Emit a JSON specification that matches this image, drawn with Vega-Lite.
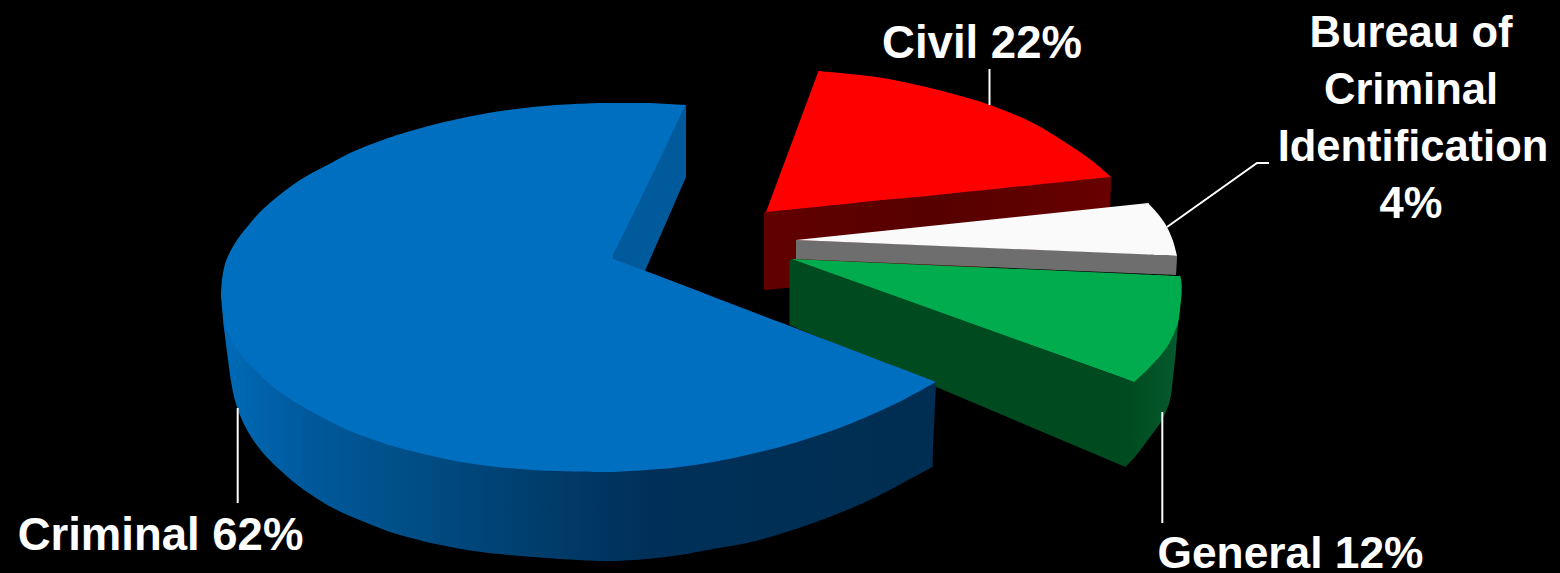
{
"$schema":"https://vega.github.io/schema/vega-lite/v6.json",
"width":1560,"height":573,"padding":0,
"autosize":"none",
"background":"#000000",
"config":{"view":{"stroke":null}},
"datasets":{
"shapes":[
{"p":"redWall","x":764,"y":212,"y2":290},{"p":"redWall","x":766,"y":212,"y2":290},{"p":"redWall","x":1109,"y":177,"y2":255},{"p":"redWall","x":1111,"y":177,"y2":180},
{"p":"redTri","x":766,"y":212,"y2":212},{"p":"redTri","x":818.5,"y":71,"y2":206.7},
{"p":"redTop","x":818,"y":71,"y2":206.8},{"p":"redTop","x":850,"y":74,"y2":203.5},{"p":"redTop","x":883,"y":78,"y2":200},{"p":"redTop","x":917,"y":85,"y2":197},{"p":"redTop","x":950,"y":93,"y2":193.5},{"p":"redTop","x":990,"y":105,"y2":189.5},{"p":"redTop","x":1033,"y":123,"y2":185},{"p":"redTop","x":1077,"y":150,"y2":180.5},{"p":"redTop","x":1095,"y":163,"y2":178.6},{"p":"redTop","x":1111,"y":177,"y2":177},
{"p":"grayWall","x":796,"y":240,"y2":259},{"p":"grayWall","x":1176,"y":255,"y2":275},{"p":"grayWall","x":1177,"y":255.7,"y2":258},
{"p":"whiteTri","x":796,"y":240,"y2":240},{"p":"whiteTri","x":1148.5,"y":203,"y2":254.5},
{"p":"whiteTop","x":1148,"y":203,"y2":254.5},{"p":"whiteTop","x":1158,"y":214,"y2":255},{"p":"whiteTop","x":1167,"y":227,"y2":255},{"p":"whiteTop","x":1173,"y":241,"y2":255.4},{"p":"whiteTop","x":1177,"y":255.7,"y2":255.7},
{"p":"greenWallA","x":789.5,"y":260,"y2":325},{"p":"greenWallA","x":792,"y":259,"y2":326},{"p":"greenWallA","x":1125.5,"y":379,"y2":467},
{"p":"greenWallB","x":1125,"y":375,"y2":467},{"p":"greenWallB","x":1134,"y":370,"y2":458},{"p":"greenWallB","x":1150,"y":360,"y2":437},{"p":"greenWallB","x":1162,"y":350,"y2":420},{"p":"greenWallB","x":1170,"y":340,"y2":400},{"p":"greenWallB","x":1173,"y":335,"y2":377},{"p":"greenWallB","x":1176,"y":328,"y2":350},{"p":"greenWallB","x":1178,"y":322,"y2":325},
{"p":"greenTri","x":791.7,"y":259,"y2":259},{"p":"greenTri","x":1134.5,"y":274,"y2":382},
{"p":"greenTop","x":1134,"y":274,"y2":382},{"p":"greenTop","x":1150,"y":274.7,"y2":367},{"p":"greenTop","x":1167,"y":275.4,"y2":347},{"p":"greenTop","x":1178,"y":275.9,"y2":323},{"p":"greenTop","x":1180,"y":276,"y2":310},{"p":"greenTop","x":1181.7,"y":285,"y2":293},
{"p":"blueNotch","x":612,"y":258,"y2":258},{"p":"blueNotch","x":645,"y":188,"y2":271},{"p":"blueNotch","x":686,"y":105,"y2":177},
{"p":"blueWall","x":222,"y":300,"y2":300},{"p":"blueWall","x":223,"y":318,"y2":320},{"p":"blueWall","x":225,"y":325,"y2":336},{"p":"blueWall","x":228,"y":333,"y2":360},{"p":"blueWall","x":232,"y":340,"y2":387},{"p":"blueWall","x":237,"y":348,"y2":407},{"p":"blueWall","x":247,"y":360,"y2":430},{"p":"blueWall","x":263,"y":376,"y2":453},{"p":"blueWall","x":280,"y":390,"y2":470},{"p":"blueWall","x":300,"y":403,"y2":487},{"p":"blueWall","x":333,"y":421,"y2":508},{"p":"blueWall","x":367,"y":437,"y2":523},{"p":"blueWall","x":400,"y":446,"y2":535},{"p":"blueWall","x":467,"y":461,"y2":550},{"p":"blueWall","x":533,"y":468,"y2":557},{"p":"blueWall","x":600,"y":470,"y2":561},{"p":"blueWall","x":613,"y":470,"y2":561},{"p":"blueWall","x":647,"y":468,"y2":559},{"p":"blueWall","x":680,"y":465,"y2":555},{"p":"blueWall","x":713,"y":460,"y2":549},{"p":"blueWall","x":747,"y":452,"y2":543},{"p":"blueWall","x":780,"y":445,"y2":534},{"p":"blueWall","x":813,"y":435,"y2":523},{"p":"blueWall","x":847,"y":423,"y2":510},{"p":"blueWall","x":880,"y":408,"y2":495},{"p":"blueWall","x":897,"y":401,"y2":486},{"p":"blueWall","x":932.5,"y":384,"y2":467},
{"p":"blueWallEnd","x":932,"y":384,"y2":467},{"p":"blueWallEnd","x":936,"y":382,"y2":384},
{"p":"blueTopA","x":221,"y":293,"y2":296},{"p":"blueTopA","x":222,"y":280,"y2":307},{"p":"blueTopA","x":223,"y":273,"y2":318},{"p":"blueTopA","x":225,"y":264,"y2":327},{"p":"blueTopA","x":230,"y":252,"y2":337},{"p":"blueTopA","x":237,"y":240,"y2":350},{"p":"blueTopA","x":247,"y":227,"y2":362},{"p":"blueTopA","x":260,"y":212,"y2":375},{"p":"blueTopA","x":277,"y":197,"y2":390},{"p":"blueTopA","x":300,"y":180,"y2":405},{"p":"blueTopA","x":333,"y":162,"y2":423},{"p":"blueTopA","x":350,"y":153,"y2":431},{"p":"blueTopA","x":380,"y":141,"y2":442},{"p":"blueTopA","x":407,"y":132,"y2":450},{"p":"blueTopA","x":467,"y":117,"y2":463},{"p":"blueTopA","x":533,"y":107,"y2":470},{"p":"blueTopA","x":600,"y":103,"y2":472},{"p":"blueTopA","x":613,"y":103,"y2":472},
{"p":"blueTopB","x":612,"y":103,"y2":258},{"p":"blueTopB","x":630,"y":103,"y2":220.8},{"p":"blueTopB","x":650,"y":103,"y2":179.4},{"p":"blueTopB","x":686,"y":105,"y2":105},
{"p":"blueTopC","x":612,"y":258,"y2":472},{"p":"blueTopC","x":647,"y":271.4,"y2":470},{"p":"blueTopC","x":680,"y":284,"y2":467},{"p":"blueTopC","x":713,"y":296.7,"y2":462},{"p":"blueTopC","x":747,"y":309.7,"y2":455},{"p":"blueTopC","x":780,"y":322.3,"y2":447},{"p":"blueTopC","x":813,"y":335,"y2":437},{"p":"blueTopC","x":847,"y":347.9,"y2":425},{"p":"blueTopC","x":897,"y":367,"y2":403},{"p":"blueTopC","x":936,"y":382,"y2":382}
],
"leaders":[
{"l":"Civil","x":989.5,"y":69},{"l":"Civil","x":989.5,"y":105},
{"l":"Criminal","x":237.7,"y":408},{"l":"Criminal","x":237.7,"y":503},
{"l":"General","x":1162.3,"y":412},{"l":"General","x":1162.3,"y":523},
{"l":"Bureau","x":1167,"y":227},{"l":"Bureau","x":1257,"y":163},{"l":"Bureau","x":1269,"y":163}
],
"labels":[
{"t":"Civil 22%","x":982,"y":58},
{"t":"Criminal 62%","x":160.5,"y":550}
],
"general":[
{"t":"General 12%","x":1290.5,"y":568}
],
"bureau":[
{"t":"Bureau of","x":1411,"y":47},
{"t":"Criminal","x":1411,"y":104},
{"t":"Identification","x":1413,"y":161},
{"t":"4%","x":1411,"y":218}
]
},
"encoding":{
"x":{"field":"x","type":"quantitative","axis":null,"scale":{"domain":[0,1560],"nice":false,"zero":false}},
"y":{"field":"y","type":"quantitative","axis":null,"scale":{"domain":[573,0],"nice":false,"zero":false}}
},
"layer":[
{"data":{"name":"shapes"},"transform":[{"filter":"datum.p=='redWall'"}],"mark":{"type":"area","color":{"gradient":"linear","x1":0,"x2":1,"y1":0,"y2":0,"stops":[{"offset":0,"color":"#620000"},{"offset":0.5,"color":"#560000"},{"offset":1,"color":"#680000"}]}},"encoding":{"y2":{"field":"y2"}}},
{"data":{"name":"shapes"},"transform":[{"filter":"datum.p=='redTri'"}],"mark":{"type":"area","color":"#FF0000"},"encoding":{"y2":{"field":"y2"}}},
{"data":{"name":"shapes"},"transform":[{"filter":"datum.p=='redTop'"}],"mark":{"type":"area","color":"#FF0000","interpolate":"catmull-rom"},"encoding":{"y2":{"field":"y2"}}},
{"data":{"name":"shapes"},"transform":[{"filter":"datum.p=='grayWall'"}],"mark":{"type":"area","color":"#6E6E6E"},"encoding":{"y2":{"field":"y2"}}},
{"data":{"name":"shapes"},"transform":[{"filter":"datum.p=='whiteTri'"}],"mark":{"type":"area","color":"#FAFAFA"},"encoding":{"y2":{"field":"y2"}}},
{"data":{"name":"shapes"},"transform":[{"filter":"datum.p=='whiteTop'"}],"mark":{"type":"area","color":"#FAFAFA","interpolate":"catmull-rom"},"encoding":{"y2":{"field":"y2"}}},
{"data":{"name":"shapes"},"transform":[{"filter":"datum.p=='greenWallA'"}],"mark":{"type":"area","color":"#004A20"},"encoding":{"y2":{"field":"y2"}}},
{"data":{"name":"shapes"},"transform":[{"filter":"datum.p=='greenWallB'"}],"mark":{"type":"area","interpolate":"catmull-rom","color":{"gradient":"linear","x1":0,"x2":1,"y1":0,"y2":0,"stops":[{"offset":0,"color":"#004A20"},{"offset":1,"color":"#055A2D"}]}},"encoding":{"y2":{"field":"y2"}}},
{"data":{"name":"shapes"},"transform":[{"filter":"datum.p=='greenTri'"}],"mark":{"type":"area","color":"#00AC4E"},"encoding":{"y2":{"field":"y2"}}},
{"data":{"name":"shapes"},"transform":[{"filter":"datum.p=='greenTop'"}],"mark":{"type":"area","color":"#00AC4E","interpolate":"catmull-rom"},"encoding":{"y2":{"field":"y2"}}},
{"data":{"name":"shapes"},"transform":[{"filter":"datum.p=='blueNotch'"}],"mark":{"type":"area","color":"#005A9C"},"encoding":{"y2":{"field":"y2"}}},
{"data":{"name":"shapes"},"transform":[{"filter":"datum.p=='blueWall'"}],"mark":{"type":"area","interpolate":"catmull-rom","color":{"gradient":"linear","x1":0,"x2":1,"y1":0,"y2":0,"stops":[{"offset":0,"color":"#006BB8"},{"offset":0.11,"color":"#005A9E"},{"offset":0.25,"color":"#004F88"},{"offset":0.43,"color":"#003F6F"},{"offset":0.6,"color":"#003059"},{"offset":1,"color":"#002E52"}]}},"encoding":{"y2":{"field":"y2"}}},
{"data":{"name":"shapes"},"transform":[{"filter":"datum.p=='blueWallEnd'"}],"mark":{"type":"area","color":"#002E52"},"encoding":{"y2":{"field":"y2"}}},
{"data":{"name":"shapes"},"transform":[{"filter":"datum.p=='blueTopA'"}],"mark":{"type":"area","color":"#006FC0","interpolate":"catmull-rom"},"encoding":{"y2":{"field":"y2"}}},
{"data":{"name":"shapes"},"transform":[{"filter":"datum.p=='blueTopB'"}],"mark":{"type":"area","color":"#006FC0"},"encoding":{"y2":{"field":"y2"}}},
{"data":{"name":"shapes"},"transform":[{"filter":"datum.p=='blueTopC'"}],"mark":{"type":"area","color":"#006FC0","interpolate":"catmull-rom"},"encoding":{"y2":{"field":"y2"}}},
{"data":{"name":"leaders"},"mark":{"type":"line","color":"#FFFFFF","strokeWidth":2},"encoding":{"detail":{"field":"l"},"order":{"field":"x"}}},
{"data":{"name":"labels"},"mark":{"type":"text","font":"Liberation Sans","fontWeight":"bold","fontSize":45.5,"color":"#FFFFFF","align":"center","baseline":"alphabetic"},"encoding":{"text":{"field":"t"}}},
{"data":{"name":"general"},"mark":{"type":"text","font":"Liberation Sans","fontWeight":"bold","fontSize":44.3,"color":"#FFFFFF","align":"center","baseline":"alphabetic"},"encoding":{"text":{"field":"t"}}},
{"data":{"name":"bureau"},"mark":{"type":"text","font":"Liberation Sans","fontWeight":"bold","fontSize":43.5,"color":"#FFFFFF","align":"center","baseline":"alphabetic"},"encoding":{"text":{"field":"t"}}}
]
}
